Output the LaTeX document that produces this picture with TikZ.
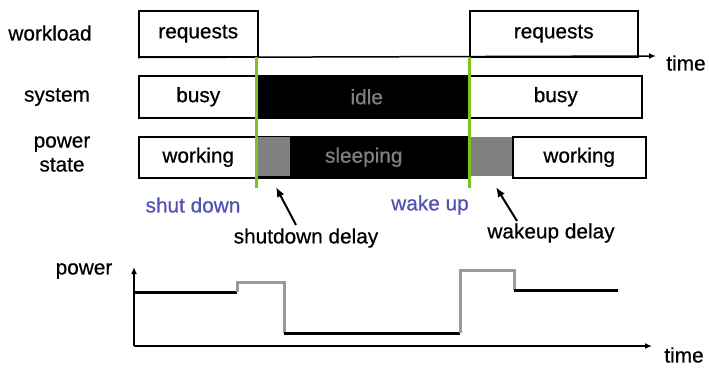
\documentclass[tikz,border=0pt]{standalone}
\usepackage{fontspec}
\setmainfont{Liberation Sans}[FakeBold=0.6]
\usetikzlibrary{arrows.meta}
\definecolor{lgreen}{HTML}{7DC21E}
\definecolor{lblue}{HTML}{5252B4}
\definecolor{dgray}{HTML}{808080}
\definecolor{cgray}{HTML}{9A9A9A}
\tikzset{
  lbl/.style={font=\fontsize{20.8}{24}\selectfont, inner sep=0pt},
  wbox/.style={draw=black, line width=1.5pt, fill=white, inner sep=0pt, anchor=north west, lbl},
  bbox/.style={draw=black, line width=1.5pt, fill=black, text=dgray, inner sep=0pt, anchor=north west, lbl},
  gbox/.style={draw=none, fill=dgray, inner sep=0pt, anchor=north west},
  axis/.style={line width=1.5pt, -{Latex[length=7pt,width=6pt]}},
  marker/.style={lgreen, line width=3pt},
  pointer/.style={line width=2pt, -{Latex[length=10pt,width=8pt]}},
  pwrblack/.style={black, line width=3pt},
  pwrgray/.style={cgray, line width=3pt},
}
\begin{document}
\begin{tikzpicture}[x=1pt,y=-1pt]
\useasboundingbox (0,0) rectangle (709,368);
% left labels
\node[lbl] (lwork) at (50,33) {workload};
\node[lbl] (lsys) at (57,97) {system};
\node[lbl, align=center] (lpow) at (62,154) {power\\state};
% workload row
\node[wbox, minimum width=119pt, minimum height=46pt] (req1) at (138,10) {requests};
\node[wbox, minimum width=168pt, minimum height=46pt] (req2) at (469,10) {requests};
\coordinate (tend) at (656,56);
\draw[axis] (req1.south west) -- (tend);
\node[lbl] (time1) at (686,63) {time};
% system row
\node[wbox, minimum width=119pt, minimum height=42pt] (busy1) at (138,75) {busy};
\node[bbox, minimum width=212pt, minimum height=42pt] (idle) at (257,75) {\hspace*{6pt}idle};
\node[wbox, minimum width=172pt, minimum height=42pt] (busy2) at (469,75) {busy};
% power state row
\node[wbox, minimum width=119pt, minimum height=41pt] (work1) at (138,136) {working};
\node[bbox, minimum width=212pt, minimum height=41pt] (sleep) at (257,136) {sleeping};
\node[gbox, minimum width=33pt, minimum height=39.5pt] (sd) at (257,136.75) {};
\node[gbox, minimum width=43pt, minimum height=39.5pt] (wd) at (469,136.75) {};
\node[wbox, minimum width=133pt, minimum height=41pt] (work2) at (512,136) {working};
% green markers
\coordinate (g1top) at (256,57);
\coordinate (g1bot) at (256,188);
\coordinate (g2top) at (469,57);
\coordinate (g2bot) at (469,188);
\draw[marker] (g1top) -- (g1bot);
\draw[marker] (g2top) -- (g2bot);
% event labels
\node[lbl, text=lblue] (shut) at (193,205) {shut down};
\node[lbl, text=lblue] (wake) at (430,205) {wake up};
\node[lbl] (sdl) at (306,238) {shutdown delay};
\node[lbl] (wdl) at (551,233) {wakeup delay};
\coordinate (sdtip) at (276,187);
\coordinate (wdtip) at (496,187);
\draw[pointer] (296,225) -- (sdtip);
\draw[pointer] (517,221) -- (wdtip);
% power plot
\coordinate (origin) at (134,346);
\coordinate (ytop) at (134,267);
\coordinate (xend) at (652,346);
\draw[axis] (origin) -- (ytop);
\draw[axis] (origin) -- (xend);
\node[lbl] (lpower) at (84,271) {power};
\node[lbl] (time2) at (684,355) {time};
\draw[pwrblack] (135,292) -- (237,292);
\draw[pwrgray] (237,292) -- (237,282) -- (284,282) -- (284,333);
\draw[pwrblack] (284,333) -- (460,333);
\draw[pwrgray] (460,333) -- (460,270) -- (514,270) -- (514,290);
\draw[pwrblack] (514,290) -- (618,290);
\end{tikzpicture}
\end{document}
